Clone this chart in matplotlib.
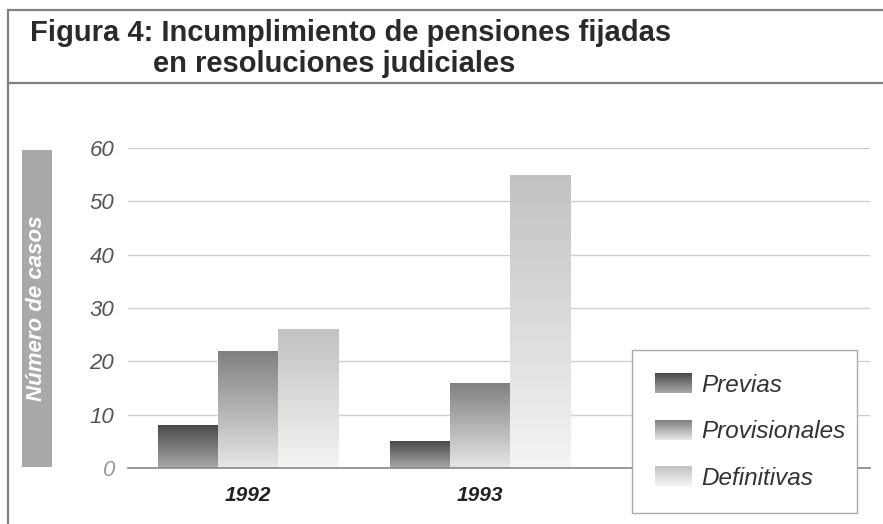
import numpy as np
import matplotlib.pyplot as plt
from matplotlib.patches import Rectangle
from matplotlib.lines import Line2D
from matplotlib.legend_handler import HandlerBase
from matplotlib.colors import LinearSegmentedColormap

# Datos
anios = ['1992', '1993']
series = ['Previas', 'Provisionales', 'Definitivas']
previas = [8, 5]
provisionales = [22, 16]
definitivas = [26, 55]
yticks = [0, 10, 20, 30, 40, 50, 60]

# degradados verticales (arriba -> abajo) para cada serie
grad = {
    'Previas': ('#4a4a4a', '#a8a8a8'),
    'Provisionales': ('#808080', '#e6e6e6'),
    'Definitivas': ('#c2c2c2', '#f4f4f2'),
}

plt.rcParams['font.family'] = ['Liberation Sans', 'DejaVu Sans']

fig = plt.figure(figsize=(8.83, 5.24), dpi=100)
fig.patch.set_facecolor('white')
ax = fig.add_axes([128 / 883, 1 - 468 / 524, 742 / 883, 320 / 524])

x = np.arange(len(anios))
w = 0.2586
valores = [previas, provisionales, definitivas]
for i, (nombre, vals) in enumerate(zip(series, valores)):
    top, bot = grad[nombre]
    cmap = LinearSegmentedColormap.from_list(nombre, [bot, top])
    barras = ax.bar(x + (i - 1) * w, vals, w, facecolor='none', edgecolor='none', zorder=3)
    for b in barras:
        x0, y0 = b.get_x(), b.get_y()
        x1, y1 = x0 + b.get_width(), y0 + b.get_height()
        img = ax.imshow(np.linspace(0, 1, 100).reshape(-1, 1), cmap=cmap, origin='lower',
                        extent=[x0, x1, y0, y1], aspect='auto', zorder=3)
        img.set_clip_path(b)

ax.set_xlim(-0.517, 2.68)
ax.set_ylim(0, 60)
ax.set_yticks(yticks)
ax.set_yticklabels([str(t) for t in yticks], fontsize=16, fontstyle='italic', color='#555555')
ax.get_yticklabels()[0].set_color('#999999')
ax.set_xticks(x)
ax.set_xticklabels(anios, fontsize=15, fontstyle='italic', fontweight='bold', color='#222222')
ax.tick_params(axis='both', length=0)
ax.tick_params(axis='y', pad=10)
ax.tick_params(axis='x', pad=13)
ax.grid(axis='y', color='#cfcfcf', linewidth=1, zorder=0)
ax.set_axisbelow(True)
for s in ['top', 'right', 'left']:
    ax.spines[s].set_visible(False)
ax.spines['bottom'].set_color('#888888')
ax.spines['bottom'].set_linewidth(1.2)
ax.spines['bottom'].set_zorder(4)
ax.set_facecolor('none')


# muestra de leyenda con degradado
class HandlerGrad(HandlerBase):
    def __init__(self, top, bot, n=20):
        super().__init__()
        self.cmap = LinearSegmentedColormap.from_list('h', [bot, top])
        self.n = n

    def create_artists(self, legend, orig_handle, xdescent, ydescent, width, height, fontsize, trans):
        arts = []
        h = height / self.n
        for k in range(self.n):
            r = Rectangle((-xdescent, -ydescent + k * h), width, h * 1.05,
                          facecolor=self.cmap(k / (self.n - 1)), edgecolor='none', transform=trans)
            arts.append(r)
        return arts


handles = [Rectangle((0, 0), 1, 1) for _ in series]
handler_map = {h: HandlerGrad(*grad[n]) for h, n in zip(handles, series)}
leg = fig.legend(handles, series, handler_map=handler_map,
                 loc='upper left', bbox_to_anchor=(632 / 883, 11 / 524, 225 / 883, 163 / 524),
                 mode='expand', borderaxespad=0, prop={'size': 17.5, 'style': 'italic'},
                 handlelength=1.5, handleheight=0.9, labelspacing=0.95, borderpad=0.95,
                 handletextpad=0.4, fancybox=False, framealpha=1, edgecolor='#aaaaaa')
leg.get_frame().set_linewidth(1.0)
for t in leg.get_texts():
    t.set_color('#333333')

# etiqueta del eje y sobre barra gris
fig.patches.append(Rectangle((22 / 883, 1 - 467 / 524), 30 / 883, 317 / 524,
                             transform=fig.transFigure, facecolor='#a9a9a9', edgecolor='none'))
fig.text(37 / 883, 1 - 308 / 524, 'Número de casos', rotation=90, ha='center', va='center',
         fontsize=16, fontweight='bold', fontstyle='italic', color='white')

# marco y título
lc = '#808080'
fig.add_artist(Line2D([8 / 883, 1], [1 - 10 / 524] * 2, color=lc, lw=1.6, transform=fig.transFigure))
fig.add_artist(Line2D([8 / 883, 1], [1 - 83 / 524] * 2, color=lc, lw=1.6, transform=fig.transFigure))
fig.add_artist(Line2D([8 / 883] * 2, [0, 1 - 10 / 524], color=lc, lw=1.6, transform=fig.transFigure))

tfont = ['Liberation Sans Narrow', 'Liberation Sans', 'DejaVu Sans']
fig.text(30 / 883, 1 - 41 / 524, 'Figura 4: Incumplimiento de pensiones fijadas',
         fontsize=21, fontweight='bold', family=tfont, color='#2a2a2a', va='baseline')
fig.text(153 / 883, 1 - 72 / 524, 'en resoluciones judiciales',
         fontsize=21, fontweight='bold', family=tfont, color='#2a2a2a', va='baseline')

fig.savefig('out.png', dpi=100)
